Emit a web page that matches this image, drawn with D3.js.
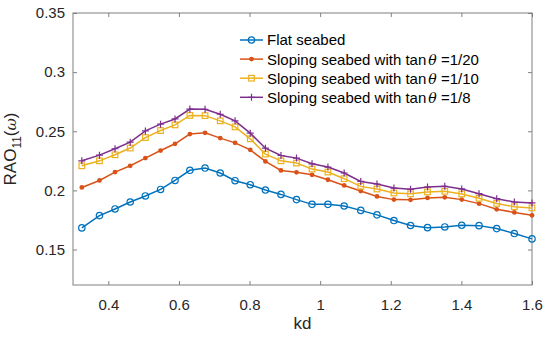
<!DOCTYPE html>
<html>
<head>
<meta charset="utf-8">
<script src="https://cdn.jsdelivr.net/npm/d3@7"></script>
<style>
  body { margin: 0; background: #fff; }
  svg { font-family: "Liberation Sans", Arial, Helvetica, sans-serif; }
</style>
</head>
<body>
<div id="chart"></div>
<script>
var kd = [0.325, 0.375, 0.419, 0.462, 0.505, 0.548, 0.589, 0.631, 0.674, 0.717,
          0.759, 0.802, 0.845, 0.889, 0.933, 0.977, 1.022, 1.068, 1.115, 1.161,
          1.209, 1.256, 1.304, 1.353, 1.401, 1.450, 1.500, 1.550, 1.600];

var flat = [0.1683, 0.1787, 0.1843, 0.1902, 0.1953, 0.2008, 0.2084, 0.2170, 0.2189, 0.2147,
            0.2082, 0.2048, 0.2003, 0.1966, 0.1922, 0.1882, 0.1882, 0.1868, 0.1831, 0.1793,
            0.1745, 0.1703, 0.1685, 0.1691, 0.1705, 0.1702, 0.1677, 0.1635, 0.1590];

var slope20 = [0.2025, 0.2084, 0.2155, 0.2208, 0.2273, 0.2337, 0.2394, 0.2476, 0.2487, 0.2442,
               0.2402, 0.2343, 0.2245, 0.2169, 0.2153, 0.2132, 0.2090, 0.2042, 0.1995, 0.1949,
               0.1922, 0.1920, 0.1936, 0.1941, 0.1922, 0.1888, 0.1840, 0.1814, 0.1789];

var slope10 = [0.2208, 0.2250, 0.2301, 0.2358, 0.2447, 0.2506, 0.2554, 0.2634, 0.2632, 0.2588,
               0.2537, 0.2436, 0.2307, 0.2250, 0.2231, 0.2180, 0.2155, 0.2099, 0.2034, 0.2012,
               0.1978, 0.1971, 0.1987, 0.1992, 0.1970, 0.1933, 0.1890, 0.1862, 0.1852];

var slope8 = [0.2250, 0.2298, 0.2352, 0.2408, 0.2503, 0.2560, 0.2604, 0.2688, 0.2686, 0.2644,
              0.2588, 0.2484, 0.2357, 0.2295, 0.2273, 0.2225, 0.2197, 0.2147, 0.2076, 0.2054,
              0.2020, 0.2009, 0.2028, 0.2034, 0.2012, 0.1972, 0.1930, 0.1902, 0.1894];

var xTicks = [0.4, 0.6, 0.8, 1, 1.2, 1.4, 1.6];
var yTicks = [0.15, 0.2, 0.25, 0.3, 0.35];

var seriesNames = ["Flat seabed", "Sloping seabed with tan", "Sloping seabed with tan", "Sloping seabed with tan"];
var seriesSuffix = ["", " =1/20", " =1/10", " =1/8"];

var series = [
    { values: flat, color: "#0072BD", marker: "circle" },
    { values: slope20, color: "#D95319", marker: "dot" },
    { values: slope10, color: "#EDB120", marker: "square" },
    { values: slope8, color: "#7E2F8E", marker: "plus" }
];

var margin = { top: 13, right: 18, bottom: 52, left: 73 },
    width = 550 - margin.left - margin.right,
    height = 337 - margin.top - margin.bottom;

var svg = d3.select("#chart").append("svg")
    .attr("width", 550)
    .attr("height", 337)
    .append("g")
    .attr("transform", "translate(" + margin.left + "," + margin.top + ")");

var x = d3.scaleLinear().domain([0.3, 1.6]).range([0, width]);
var y = d3.scaleLinear().domain([0.12, 0.35]).range([height, 0]);

var axisColor = "#808080";
var textColor = "#262626";

// box
svg.append("rect")
    .attr("width", width)
    .attr("height", height)
    .style("fill", "none")
    .style("stroke", axisColor)
    .style("stroke-width", 1);

function styleAxis(g) {
    g.select(".domain").remove();
    g.selectAll(".tick line").style("stroke", axisColor);
    g.selectAll(".tick text")
        .style("fill", textColor)
        .style("font-size", "15px")
        .style("font-family", "Liberation Sans, Arial, sans-serif");
}

svg.append("g")
    .attr("transform", "translate(0," + height + ")")
    .call(d3.axisBottom(x).tickValues(xTicks).tickSize(-4).tickPadding(14).tickFormat(d3.format("")))
    .call(styleAxis);

svg.append("g")
    .call(d3.axisTop(x).tickValues(xTicks).tickSize(-4).tickFormat(""))
    .call(styleAxis);

svg.append("g")
    .call(d3.axisLeft(y).tickValues(yTicks).tickSize(-4).tickPadding(8).tickFormat(d3.format("")))
    .call(styleAxis);

svg.append("g")
    .attr("transform", "translate(" + width + ",0)")
    .call(d3.axisRight(y).tickValues(yTicks).tickSize(-4).tickFormat(""))
    .call(styleAxis);

// axis labels
svg.append("text")
    .attr("x", width / 2)
    .attr("y", height + 44)
    .attr("text-anchor", "middle")
    .style("font-size", "17px")
    .style("fill", textColor)
    .text("kd");

var yl = svg.append("text")
    .attr("transform", "translate(" + (-57) + "," + (height / 2) + ") rotate(-90)")
    .attr("text-anchor", "middle")
    .style("font-size", "17px")
    .style("fill", textColor);
yl.append("tspan").text("RAO");
yl.append("tspan").attr("dy", 5).style("font-size", "12px").text("11");
yl.append("tspan").attr("dy", -5).text("(");
yl.append("tspan").style("font-style", "italic").style("font-family", "DejaVu Serif, serif").style("font-size", "15px").text("ω");
yl.append("tspan").text(")");

var line = d3.line()
    .x(function (d, i) { return x(kd[i]); })
    .y(function (d) { return y(d); });

function drawMarker(g, type, color) {
    if (type === "circle") {
        g.append("circle").attr("r", 3.2)
            .style("fill", "none").style("stroke", color).style("stroke-width", 1.2);
    } else if (type === "dot") {
        g.append("circle").attr("r", 2.4)
            .style("fill", color).style("stroke", "none");
    } else if (type === "square") {
        g.append("rect").attr("x", -2.8).attr("y", -2.8).attr("width", 5.6).attr("height", 5.6)
            .style("fill", "none").style("stroke", color).style("stroke-width", 1.2);
    } else if (type === "plus") {
        g.append("path").attr("d", "M-3.5,0H3.5M0,-3.5V3.5")
            .style("stroke", color).style("stroke-width", 1.2);
    }
}

series.forEach(function (s) {
    svg.append("path")
        .datum(s.values)
        .attr("d", line)
        .style("fill", "none")
        .style("stroke", s.color)
        .style("stroke-width", 1.5);

    svg.selectAll(null)
        .data(s.values)
        .enter().append("g")
        .attr("transform", function (d, i) { return "translate(" + x(kd[i]) + "," + y(d) + ")"; })
        .each(function () { drawMarker(d3.select(this), s.marker, s.color); });
});

// legend
var legend = svg.append("g")
    .attr("transform", "translate(" + (240 - margin.left) + "," + (40 - margin.top) + ")");

series.forEach(function (s, i) {
    var row = legend.append("g").attr("transform", "translate(0," + (i * 19.1) + ")");
    row.append("line")
        .attr("x1", 0).attr("x2", 23)
        .style("stroke", s.color).style("stroke-width", 1.5);
    drawMarker(row.append("g").attr("transform", "translate(11.5,0)"), s.marker, s.color);
    var t = row.append("text")
        .attr("x", 27)
        .attr("dy", "0.36em")
        .style("font-size", "15px")
        .style("fill", "#000")
        .text(seriesNames[i]);
    if (i > 0) {
        t.append("tspan").attr("dx", 2).style("font-style", "italic")
            .style("font-family", "DejaVu Serif, serif").style("font-size", "14px").text("θ");
        t.append("tspan").text(seriesSuffix[i]);
    }
});
</script>
</body>
</html>
